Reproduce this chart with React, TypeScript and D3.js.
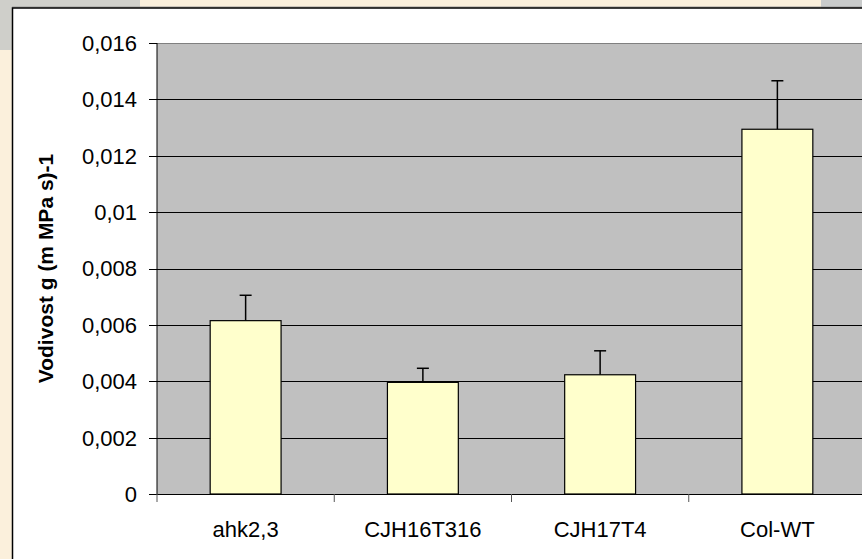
import React from "react";
import * as d3 from "d3";

const categories = ["ahk2,3", "CJH16T316", "CJH17T4", "Col-WT"];
const values = [0.00615, 0.00396, 0.00423, 0.01294];
const errors = [0.0009, 0.0005, 0.00085, 0.00172];
const yTicks = [0, 0.002, 0.004, 0.006, 0.008, 0.01, 0.012, 0.014, 0.016];
const yTickLabels = ["0", "0,002", "0,004", "0,006", "0,008", "0,01", "0,012", "0,014", "0,016"];
const yTitle = "Vodivost g (m MPa s)-1";

const W = 862;
const H = 559;
const plot = { left: 157, right: 866, top: 43, bottom: 494 };

export default function App() {
  const x = d3.scaleBand<string>().domain(categories).range([plot.left, plot.right]).paddingInner(0).paddingOuter(0);
  const y = d3.scaleLinear().domain([0, 0.016]).range([plot.bottom, plot.top]);
  const bw = x.bandwidth() * 0.4;
  const font = "Arial, 'Liberation Sans', sans-serif";
  const boundaries = categories.map((c) => x(c)!).concat([plot.right]);

  return (
    <svg width={W} height={H} style={{ position: "absolute", left: 0, top: 0 }}>
      <rect x={0} y={0} width={W} height={H} fill="#FBF0DC" />
      <rect x={0} y={0} width={140} height={8} fill="#CFCFCA" />
      <rect x={0} y={0} width={13} height={50} fill="#CFCFCA" />
      <rect x={821} y={0} width={41} height={8} fill="#C9CBCB" />
      <line x1={12} x2={W} y1={7} y2={7} stroke="#9a9a9a" strokeWidth={1} />
      <rect x={12.5} y={8} width={W} height={H} fill="#FFFFFF" stroke="#000" strokeWidth={1.5} />
      <rect x={plot.left} y={plot.top} width={plot.right - plot.left} height={plot.bottom - plot.top} fill="#C0C0C0" />
      {yTicks.slice(1).map((t, i) => (
        <line key={"g" + i} x1={plot.left} x2={plot.right} y1={Math.round(y(t)) + 0.5} y2={Math.round(y(t)) + 0.5}
          stroke={t === 0.016 ? "#808080" : "#000"} strokeWidth={1} />
      ))}
      {categories.map((c, i) => {
        const cx = x(c)! + x.bandwidth() / 2;
        const top = y(values[i]);
        const eTop = y(values[i] + errors[i]);
        return (
          <g key={c}>
            <line x1={cx} x2={cx} y1={top} y2={eTop} stroke="#000" strokeWidth={1.5} />
            <line x1={cx - 6} x2={cx + 6} y1={eTop} y2={eTop} stroke="#000" strokeWidth={1.5} />
            <rect x={cx - bw / 2} y={top} width={bw} height={plot.bottom - top} fill="#FFFFCC" stroke="#000" strokeWidth={1.2} />
            <text x={cx} y={537} textAnchor="middle" fontFamily={font} fontSize={22} fill="#000">{c}</text>
          </g>
        );
      })}
      <line x1={plot.left} x2={plot.left} y1={plot.top} y2={plot.bottom} stroke="#000" strokeWidth={1} />
      <line x1={plot.left} x2={plot.right} y1={plot.bottom + 0.5} y2={plot.bottom + 0.5} stroke="#000" strokeWidth={1} />
      {yTicks.map((t, i) => (
        <g key={"t" + i}>
          <line x1={149} x2={plot.left} y1={Math.round(y(t)) + 0.5} y2={Math.round(y(t)) + 0.5} stroke="#000" strokeWidth={1} />
          <text x={137} y={y(t)} dy="0.36em" textAnchor="end" fontFamily={font} fontSize={22} fill="#000">{yTickLabels[i]}</text>
        </g>
      ))}
      {boundaries.map((b, i) => (
        <line key={"xt" + i} x1={b} x2={b} y1={plot.bottom} y2={plot.bottom + 8} stroke="#555" strokeWidth={1} />
      ))}
      <text transform={`translate(53,${(plot.top + plot.bottom) / 2}) rotate(-90)`} textAnchor="middle"
        fontFamily={font} fontSize={21} fontWeight="bold" fill="#000">{yTitle}</text>
    </svg>
  );
}
